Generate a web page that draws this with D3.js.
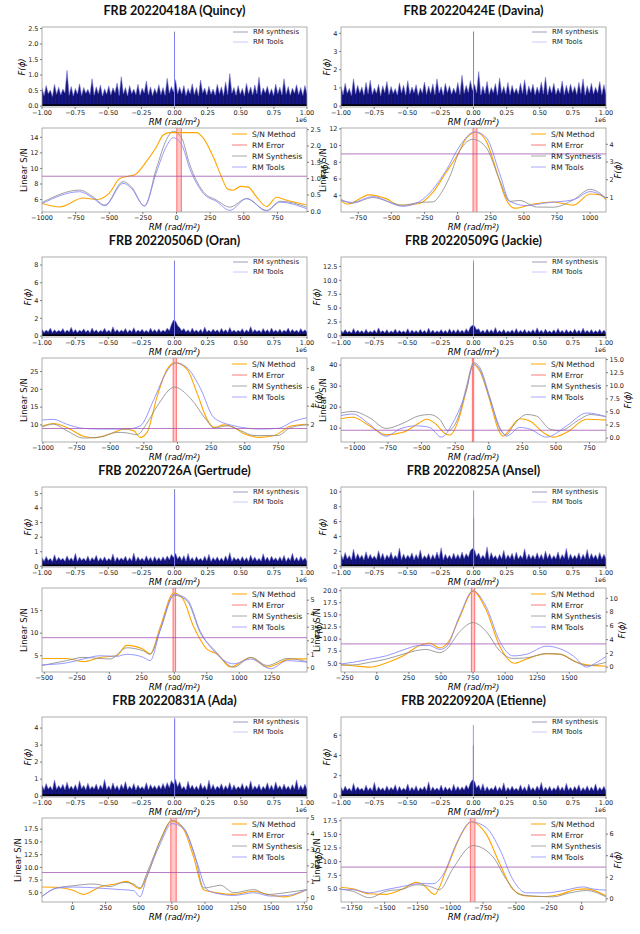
<!DOCTYPE html>
<html>
<head>
<meta charset="utf-8">
<script src="https://cdn.jsdelivr.net/npm/d3@7"></script>
<style>
  body { margin: 0; background: #fff; }
</style>
</head>
<body>
<svg id="fig" width="640" height="934"></svg>
<script>
// ---- data ----
const frbTitles = ["FRB 20220418A (Quincy)", "FRB 20220424E (Davina)", "FRB 20220506D (Oran)", "FRB 20220509G (Jackie)",
    "FRB 20220726A (Gertrude)", "FRB 20220825A (Ansel)", "FRB 20220831A (Ada)", "FRB 20220920A (Etienne)"];

// upper panels: Faraday spectrum over +-1e6 rad/m^2
const rmTicksTop = [-1e6, -0.75e6, -0.5e6, -0.25e6, 0, 0.25e6, 0.5e6, 0.75e6, 1e6];
const topRange = [[-0.03, 2.55], [-0.05, 4.35], [-0.1, 8.9], [-0.2, 14.2], [-0.05, 5.45], [-0.1, 10.65], [-0.05, 4.65], [-0.1, 7.8]];
const topTicks = [[0, 0.5, 1, 1.5, 2, 2.5], [0, 1, 2, 3, 4], [0, 2, 4, 6, 8], [0, 2.5, 5, 7.5, 10, 12.5],
    [0, 1, 2, 3, 4, 5], [0, 2, 4, 6, 8, 10], [0, 1, 2, 3, 4], [0, 2, 4, 6]];
const topFmt = [".1f", "d", "d", ".1f", "d", "d", "d", "d"];
const peakSynth = [2.4, 4.1, 8.5, 13.2, 5.3, 6.5, 4.5, 5.0];
const peakTools = [2.3, 3.9, 8.2, 13.6, 5.0, 10.2, 4.6, 7.0];

// ragged top of the noise floor, sampled evenly across the panel
const noiseQuincy = [
    0.58,0.34,0.66,0.4,0.52,0.31,0.7,0.38, 0.61,0.36,0.55,0.42,1.15,0.35,0.63,0.33,
    0.57,0.39,0.72,0.34,0.6,0.41,0.54,0.37, 0.88,0.35,0.62,0.4,0.68,0.32,0.56,0.38,
    0.65,0.36,0.59,0.43,0.74,0.34,0.95,0.39, 0.6,0.33,0.66,0.4,0.55,0.37,0.7,0.35,
    0.58,0.42,0.81,0.36,0.62,0.34,0.57,0.4, 0.69,0.37,0.6,0.35,0.9,0.41,0.63,0.45,
    0.85,0.4,0.61,0.39,0.66,0.34,0.57,0.4, 0.72,0.37,0.6,0.33,0.84,0.42,0.58,0.36,
    0.64,0.38,0.55,0.35,0.7,0.4,0.62,0.34, 0.78,0.37,1.05,0.41,0.6,0.35,0.66,0.38,
    0.57,0.33,0.73,0.4,0.62,0.36,0.68,0.39, 0.93,0.35,0.59,0.42,0.64,0.37,0.56,0.34,
    0.71,0.4,0.61,0.36,0.88,0.38,0.63,0.35, 0.58,0.41,0.69,0.37,0.6,0.34,0.66,0.4];
const noiseDavina = [
    1.1,0.62,1.25,0.7,0.98,0.58,1.5,0.66, 1.15,0.72,1.05,0.6,1.3,0.68,1.42,0.64,
    1.0,0.7,1.2,0.57,1.12,0.74,1.35,0.63, 1.08,0.69,0.97,0.61,1.28,0.72,1.15,0.6,
    1.4,0.66,1.05,0.73,1.18,0.59,1.0,0.7, 1.32,0.64,1.1,0.68,1.22,0.62,1.5,0.71,
    1.06,0.6,1.25,0.74,1.12,0.65,0.99,0.7, 1.3,0.63,1.7,0.69,1.15,0.75,1.4,0.86,
    1.2,0.72,1.9,0.61,1.1,0.68,1.35,0.64, 1.02,0.73,1.24,0.6,1.55,0.7,1.08,0.66,
    1.3,0.62,1.14,0.71,0.98,0.65,1.26,0.69, 1.45,0.6,1.1,0.74,1.2,0.63,1.05,0.7,
    1.32,0.67,1.6,0.61,1.12,0.72,1.25,0.65, 1.0,0.7,1.38,0.62,1.15,0.68,1.22,0.73,
    1.08,0.64,1.3,0.69,1.5,0.6,1.12,0.71, 1.26,0.66,1.04,0.72,1.35,0.63,1.18,0.68];
const noiseOran = [
    0.8,0.42,0.68,0.48,0.9,0.4,0.72,0.45, 0.66,0.5,0.85,0.41,0.7,0.47,1.0,0.43,
    0.75,0.4,0.68,0.49,0.82,0.44,0.7,0.38, 0.92,0.46,0.72,0.42,0.66,0.5,0.88,0.44,
    0.7,0.41,1.05,0.47,0.74,0.43,0.68,0.49, 0.86,0.4,0.72,0.45,0.95,0.42,0.7,0.48,
    0.78,0.44,0.67,0.4,0.9,0.46,0.73,0.43, 0.82,0.44,0.7,0.48,0.9,0.6,1.3,1.8,
    1.7,1.2,0.95,0.6,0.85,0.47,0.72,0.42, 0.9,0.48,0.7,0.44,0.78,0.4,1.02,0.46,
    0.68,0.43,0.8,0.49,0.72,0.41,0.88,0.45, 0.74,0.42,0.96,0.47,0.7,0.44,0.66,0.5,
    0.84,0.41,0.72,0.46,1.08,0.43,0.75,0.48, 0.69,0.4,0.86,0.45,0.73,0.42,0.92,0.47,
    0.7,0.44,0.8,0.41,0.68,0.49,0.9,0.43, 0.76,0.46,0.7,0.42,0.85,0.48,0.72,0.45];
const noiseJackie = [
    1.0,0.55,1.15,0.6,0.9,0.52,1.35,0.58, 1.05,0.62,0.95,0.5,1.2,0.57,0.88,0.6,
    1.1,0.54,1.45,0.61,0.98,0.56,1.12,0.52, 0.92,0.6,1.25,0.55,1.02,0.63,0.9,0.57,
    1.3,0.53,1.08,0.6,0.95,0.56,1.18,0.62, 1.0,0.51,1.4,0.58,1.06,0.55,0.93,0.6,
    1.15,0.57,1.0,0.53,1.28,0.61,1.1,0.56, 1.2,0.6,1.05,0.58,1.3,0.7,1.6,1.9,
    1.8,1.1,1.3,0.6,1.05,0.55,1.22,0.62, 1.12,0.59,1.5,0.56,1.0,0.61,1.18,0.53,
    0.94,0.6,1.1,0.55,1.32,0.58,1.03,0.62, 1.2,0.54,0.97,0.59,1.14,0.56,1.45,0.6,
    1.05,0.52,1.24,0.61,0.92,0.57,1.1,0.55, 1.35,0.6,1.0,0.53,1.16,0.62,0.98,0.56,
    1.26,0.58,1.08,0.54,1.4,0.6,1.02,0.57, 1.14,0.55,0.95,0.61,1.2,0.56,1.06,0.59];
const noiseGertrude = [
    0.6,0.35,0.68,0.4,0.55,0.32,0.8,0.38, 0.62,0.41,0.56,0.34,0.72,0.39,0.58,0.36,
    0.9,0.33,0.64,0.4,0.57,0.37,0.7,0.35, 0.61,0.42,0.76,0.34,0.59,0.38,0.66,0.36,
    0.55,0.4,0.85,0.33,0.63,0.39,0.58,0.41, 0.7,0.35,0.6,0.37,0.92,0.34,0.65,0.4,
    0.57,0.36,0.73,0.39,0.62,0.33,0.68,0.38, 0.6,0.37,0.66,0.4,0.72,0.45,0.82,0.6,
    0.9,0.5,0.7,0.4,0.74,0.35,0.88,0.39, 0.61,0.34,0.67,0.41,0.56,0.36,0.7,0.38,
    0.82,0.33,0.6,0.4,0.65,0.37,0.58,0.35, 0.72,0.39,0.94,0.34,0.62,0.41,0.57,0.36,
    0.68,0.38,0.6,0.33,0.78,0.4,0.64,0.37, 0.56,0.35,0.86,0.39,0.63,0.34,0.7,0.41,
    0.59,0.36,0.66,0.38,0.75,0.33,0.61,0.4, 0.9,0.37,0.62,0.35,0.69,0.39,0.58,0.36];
const noiseAnsel = [
    1.6,0.9,1.85,1.0,1.45,0.85,2.3,0.95, 1.7,1.05,1.5,0.88,1.95,0.98,1.62,1.02,
    1.4,0.92,2.1,1.0,1.75,0.86,1.55,1.08, 1.88,0.94,1.48,1.03,2.45,0.9,1.66,0.97,
    1.52,1.06,1.8,0.89,1.6,1.0,2.2,0.93, 1.45,1.04,1.72,0.9,1.58,0.98,1.92,1.05,
    2.5,0.88,1.64,1.0,1.5,0.95,1.78,1.02, 1.6,1.0,1.9,1.05,1.7,1.2,2.1,2.4,
    2.2,1.3,1.8,1.0,1.5,1.04,2.6,0.9, 1.84,1.06,1.46,0.91,1.62,1.0,2.15,0.94,
    1.55,1.03,1.76,0.89,1.9,0.97,1.48,1.05, 2.35,0.92,1.65,1.0,1.52,0.96,1.82,1.02,
    1.6,0.9,2.05,1.04,1.7,0.95,1.45,1.0, 1.94,0.93,1.58,1.06,2.4,0.9,1.66,0.98,
    1.5,1.02,1.8,0.92,1.62,1.0,2.25,0.95, 1.72,1.04,1.55,0.9,1.86,0.98,1.6,1.03];
const noiseAda = [
    0.66,0.38,0.74,0.42,0.58,0.36,0.95,0.4, 0.62,0.44,0.7,0.37,0.82,0.41,0.6,0.39,
    0.68,0.35,0.9,0.43,0.64,0.38,0.76,0.4, 0.58,0.42,0.72,0.36,0.66,0.44,0.98,0.39,
    0.61,0.37,0.78,0.41,0.63,0.35,0.7,0.43, 0.86,0.38,0.6,0.4,0.74,0.36,0.65,0.42,
    0.57,0.39,0.8,0.37,0.68,0.44,0.62,0.4, 0.66,0.42,0.75,0.44,0.8,0.5,0.92,0.7,
    1.0,0.55,0.85,0.42,0.58,0.36,0.88,0.43, 0.66,0.39,0.6,0.37,0.77,0.42,0.63,0.35,
    0.94,0.4,0.69,0.38,0.59,0.44,0.73,0.37, 0.62,0.41,0.8,0.36,0.67,0.39,0.57,0.43,
    0.75,0.38,0.64,0.4,0.9,0.37,0.61,0.42, 0.7,0.35,0.58,0.41,0.79,0.39,0.66,0.36,
    0.84,0.43,0.62,0.38,0.72,0.4,0.6,0.37, 0.68,0.41,0.96,0.36,0.64,0.39,0.7,0.42];
const noiseEtienne = [
    0.88,0.5,0.98,0.56,0.8,0.47,1.25,0.53, 0.9,0.58,0.78,0.49,1.05,0.55,0.84,0.52,
    1.35,0.48,0.92,0.57,0.82,0.5,1.0,0.54, 0.86,0.59,1.12,0.47,0.95,0.53,0.8,0.56,
    1.2,0.5,0.88,0.55,1.02,0.48,0.83,0.58, 0.97,0.52,1.4,0.49,0.9,0.56,0.81,0.53,
    1.08,0.5,0.92,0.57,0.85,0.48,1.15,0.55, 0.95,0.56,0.9,0.6,1.1,0.7,1.3,1.6,
    1.45,0.8,1.1,0.56,1.22,0.49,0.93,0.54, 0.82,0.58,1.04,0.5,0.9,0.55,1.3,0.47,
    0.86,0.53,0.98,0.57,0.8,0.51,1.1,0.55, 0.92,0.48,1.18,0.56,0.84,0.52,1.0,0.58,
    1.35,0.5,0.88,0.54,0.96,0.49,0.83,0.57, 1.06,0.53,0.9,0.5,1.25,0.56,0.87,0.52,
    0.95,0.58,1.12,0.48,0.85,0.55,1.02,0.51, 0.9,0.54,1.2,0.5,0.86,0.57,0.97,0.53];
const noiseSets = [noiseQuincy, noiseDavina, noiseOran, noiseJackie, noiseGertrude, noiseAnsel, noiseAda, noiseEtienne];

// lower panels: zoom on the peak
const rmRange = [[-1000, 970], [-880, 1120], [-1007, 963], [-1100, 873], [-518, 1521], [-279, 1786], [-230, 1770], [-1832, 186]];
const snRange = [[4.4, 15.2], [2.05, 12.1], [5.2, 28.8], [3.4, 43.4], [1.4, 20], [3.2, 20.55], [3.2, 19.7], [2.6, 18.0]];
const fRange = [[-0.02, 2.55], [0.18, 4.92], [0.17, 9.14], [-0.74, 15.3], [-0.31, 5.9], [-0.7, 11.5], [-0.27, 5.0], [-0.3, 7.5]];
const rmTicks = [
    [-1000, -750, -500, -250, 0, 250, 500, 750],
    [-750, -500, -250, 0, 250, 500, 750, 1000],
    [-1000, -750, -500, -250, 0, 250, 500, 750],
    [-1000, -750, -500, -250, 0, 250, 500, 750],
    [-500, -250, 0, 250, 500, 750, 1000, 1250],
    [-250, 0, 250, 500, 750, 1000, 1250, 1500],
    [0, 250, 500, 750, 1000, 1250, 1500, 1750],
    [-1750, -1500, -1250, -1000, -750, -500, -250, 0]];
const snTicks = [[6, 8, 10, 12, 14], [4, 6, 8, 10, 12], [10, 15, 20, 25], [10, 20, 30, 40], [5, 10, 15],
    [5, 7.5, 10, 12.5, 15, 17.5, 20], [5, 7.5, 10, 12.5, 15, 17.5], [5, 7.5, 10, 12.5, 15, 17.5]];
const snFmt = ["d", "d", "d", "d", "d", ".1f", ".1f", ".1f"];
const fTicks = [[0, 0.5, 1, 1.5, 2, 2.5], [1, 2, 3, 4], [2, 4, 6, 8], [0, 2.5, 5, 7.5, 10, 12.5, 15],
    [0, 1, 2, 3, 4, 5], [0, 2, 4, 6, 8, 10], [0, 1, 2, 3, 4, 5], [0, 2, 4, 6]];
const fFmt = [".1f", "d", "d", ".1f", "d", "d", "d", "d"];
const rmError = [[2, 36], [116, 146], [-32, -8], [-122, -112], [490, 510], [737, 763], [742, 783], [-847, -812]];
const snThreshold = 9;

// S/N method (left axis), RM synthesis and RM Tools (right axis) as [RM, value]
const snQuincy = [[-1000,5.5],[-868,5.05],[-695,6.2],[-596,6.0],[-496,6.9],[-422,8.7],[-360,9.0],[-310,9.2],[-223,10.9],[-149,12.8],[-99,14.3],[-50,14.6],[149,14.6],[199,13.9],[273,11.5],[335,8.9],[377,7.4],[422,7.2],[476,7.7],[533,7.6],[596,6.3],[670,5.1],[744,6.3],[819,5.9],[968,5.3]];
const synQuincy = [[-1000,0.27],[-720,0.65],[-620,0.44],[-533,0.19],[-397,0.91],[-335,0.75],[-238,0.16],[-149,1.32],[-74,2.2],[-25,2.45],[37,2.25],[99,1.42],[199,0.6],[298,0.34],[397,0.13],[521,0.39],[670,0.03],[769,0.31],[968,0.13]];
const toolsQuincy = [[-1000,0.24],[-720,0.6],[-620,0.4],[-533,0.17],[-397,0.86],[-335,0.7],[-238,0.17],[-149,1.2],[-74,2.0],[-25,2.25],[37,2.05],[99,1.3],[199,0.55],[298,0.3],[397,0.03],[521,0.39],[670,0.01],[769,0.28],[968,0.08]];

const snDavina = [[-881,3.45],[-831,3.0],[-667,4.1],[-540,3.65],[-439,2.86],[-288,3.06],[-187,4.4],[-86,6.8],[3,9.0],[66,10.9],[141,11.6],[217,10.5],[293,7.0],[369,3.45],[432,2.5],[571,3.0],[722,3.25],[874,2.87],[1000,4.2],[1076,4.1],[1121,3.5]];
const synDavina = [[-881,0.9],[-793,0.68],[-641,1.0],[-490,0.68],[-414,0.56],[-288,0.72],[-187,0.75],[-120,1.3],[-60,2.16],[16,3.63],[116,4.28],[217,3.8],[318,1.97],[394,0.78],[470,0.83],[596,0.46],[722,0.45],[874,0.87],[1000,1.46],[1121,0.96]];
const toolsDavina = [[-881,0.83],[-793,0.72],[-641,1.05],[-414,0.5],[-288,0.77],[-86,2.53],[16,3.9],[129,4.7],[217,4.37],[318,2.34],[394,0.78],[520,0.54],[672,0.7],[874,0.87],[1000,1.33],[1121,0.96]];

const snOran = [[-1005,9.7],[-923,10.4],[-823,9.3],[-699,6.8],[-624,6.4],[-500,7.5],[-400,8.8],[-326,8.4],[-276,6.5],[-226,7.9],[-152,17.9],[-77,25.6],[-15,27.5],[72,25.6],[147,18.8],[221,11.5],[271,9.3],[346,10.0],[420,9.3],[495,7.5],[619,6.5],[719,7.0],[843,9.7],[963,10.2]];
const synOran = [[-1005,1.79],[-923,2.07],[-823,1.38],[-699,0.59],[-574,0.69],[-450,1.2],[-380,1.15],[-300,0.95],[-226,2.2],[-152,3.97],[-22,6.03],[97,4.83],[221,2.41],[271,1.66],[371,1.9],[470,1.38],[570,0.86],[744,0.86],[843,1.72],[963,2.0]];
const toolsOran = [[-1005,2.52],[-923,2.59],[-823,2.07],[-699,1.62],[-574,1.55],[-376,1.55],[-276,1.9],[-177,4.66],[-77,7.76],[-15,8.62],[72,8.1],[172,5.86],[271,2.76],[420,1.9],[619,1.55],[744,1.62],[868,2.41],[963,2.76]];

const snJackie = [[-1099,14.5],[-1012,15.2],[-888,11.1],[-764,6.8],[-639,8.0],[-515,12.6],[-465,14.2],[-391,11.8],[-330,7.6],[-290,6.7],[-216,15.7],[-167,28],[-117,40.3],[-67,37.2],[7,23.4],[70,9.5],[107,6.2],[157,9.5],[231,14.5],[306,13.4],[405,8.0],[480,5.7],[580,8.0],[729,14.2],[873,13.8]];
const synJackie = [[-1099,4.8],[-1012,5.1],[-888,3.9],[-764,1.85],[-639,2.84],[-515,4.3],[-440,4.5],[-366,3.6],[-303,1.42],[-216,4.8],[-167,9.75],[-112,14.4],[-67,13.5],[7,7.9],[82,1.73],[132,0.62],[182,2.35],[281,4.5],[356,4.2],[455,1.73],[530,1.42],[679,3.6],[754,4.5],[873,4.1]];
const toolsJackie = [[-1099,4.3],[-1012,4.6],[-888,2.65],[-764,0.37],[-664,1.73],[-540,2.35],[-440,2.04],[-353,0.19],[-266,3.0],[-167,9.1],[-112,14.2],[-67,13.1],[7,7.6],[95,1.42],[132,0.37],[231,2.04],[306,1.73],[430,0.19],[580,2.35],[729,4.8],[873,4.1]];

const snGertrude = [[-518,4.4],[-330,4.4],[-201,3.7],[-72,4.6],[57,5.0],[134,7.3],[263,6.4],[314,5.4],[392,11.4],[495,18.9],[559,17.9],[649,11.4],[753,6.4],[830,5.4],[933,2.5],[1088,4.6],[1216,2.5],[1397,4.3],[1521,4.3]];
const synGertrude = [[-518,0.17],[-330,0.53],[-201,0.77],[-72,0.69],[5,0.65],[134,1.48],[263,1.24],[314,1.0],[392,2.8],[500,5.36],[598,4.95],[701,2.56],[804,1.36],[959,0.05],[1088,0.77],[1216,0.17],[1371,0.69],[1521,0.45]];
const toolsGertrude = [[-518,0.22],[-330,0.36],[-201,0.65],[-72,0.89],[57,0.85],[134,1.0],[263,0.77],[314,0.53],[392,2.8],[500,5.43],[598,5.07],[701,2.68],[804,1.24],[959,0.29],[1088,0.65],[1242,-0.07],[1371,0.53],[1521,0.41]];

const snAnsel = [[-279,4.67],[-188,4.5],[-57,4.2],[73,5.07],[203,6.5],[333,8.67],[411,9.2],[490,8.15],[560,9.5],[646,14.5],[750,19.9],[854,15.9],[958,8.5],[1076,5.0],[1167,5.9],[1323,7.0],[1427,6.9],[1557,5.2],[1635,4.67],[1786,4.4]];
const synAnsel = [[-279,0.33],[-188,0.33],[-57,0.7],[73,1.17],[203,1.88],[333,2.49],[385,2.58],[490,2.11],[542,2.58],[646,5.16],[750,6.48],[854,5.16],[958,2.35],[1063,1.27],[1167,1.36],[1323,1.97],[1427,1.88],[1531,0.94],[1635,0.23],[1786,0.7]];
const toolsAnsel = [[-279,0.47],[-188,0.7],[-57,1.17],[73,1.64],[203,2.49],[333,3.15],[411,3.15],[490,2.58],[542,2.96],[646,7.5],[750,11.1],[854,8.7],[958,3.76],[1063,1.64],[1167,1.88],[1323,3.05],[1427,2.68],[1531,1.64],[1635,0.0],[1714,0.7],[1786,1.55]];

const snAda = [[-230,6.15],[-121,6.1],[5,5.5],[81,4.7],[207,6.15],[333,6.8],[409,7.25],[510,5.8],[561,8.2],[662,15.3],[750,19.1],[838,17.5],[914,12.05],[990,5.6],[1091,5.0],[1217,4.7],[1369,5.3],[1470,4.7],[1596,4.2],[1768,5.6]];
const synAda = [[-230,0.1],[-121,0.6],[5,0.75],[157,0.86],[283,0.7],[384,0.96],[460,0.86],[510,0.61],[561,1.53],[662,3.57],[750,4.84],[838,4.39],[927,2.55],[990,0.61],[1066,0.71],[1116,0.78],[1217,0.31],[1369,0.51],[1470,0.2],[1596,0.3],[1768,0.51]];
const toolsAda = [[-230,0.06],[-121,0.6],[5,0.67],[207,0.6],[359,0.51],[460,0.45],[510,0.06],[561,1.29],[662,3.37],[750,4.65],[838,4.35],[939,2.24],[1015,0.51],[1091,0.27],[1217,0.14],[1369,0.31],[1495,0.1],[1621,0.14],[1768,0.51]];

const snEtienne = [[-1832,5.3],[-1743,5.0],[-1616,4.1],[-1489,4.0],[-1361,5.0],[-1260,6.2],[-1209,5.8],[-1120,4.0],[-1031,8.45],[-929,14.4],[-840,17.3],[-725,15.0],[-623,9.6],[-522,4.9],[-420,3.7],[-267,3.6],[-165,4.0],[-38,4.9],[38,5.0],[186,3.7]];
const synEtienne = [[-1832,0.9],[-1743,0.7],[-1616,0.1],[-1489,0.7],[-1361,0.9],[-1260,1.3],[-1158,1.15],[-1081,0.85],[-980,2.8],[-827,4.94],[-674,3.88],[-573,1.8],[-471,0.4],[-344,0.24],[-216,0.18],[-89,0.55],[38,0.76],[186,0.18]];
const toolsEtienne = [[-1832,0.85],[-1743,0.85],[-1616,0.55],[-1489,0.85],[-1361,1.15],[-1234,1.4],[-1132,1.4],[-1056,2.2],[-954,5.1],[-840,7.15],[-725,6.6],[-623,4.6],[-522,1.76],[-420,0.55],[-267,0.55],[-140,0.76],[13,1.1],[89,0.9],[186,0.8]];

const snCurves = [snQuincy, snDavina, snOran, snJackie, snGertrude, snAnsel, snAda, snEtienne];
const synCurves = [synQuincy, synDavina, synOran, synJackie, synGertrude, synAnsel, synAda, synEtienne];
const toolsCurves = [toolsQuincy, toolsDavina, toolsOran, toolsJackie, toolsGertrude, toolsAnsel, toolsAda, toolsEtienne];

// ---- layout ----
const panelW = 265, topH = 80, botH = 84, rowStep = 230;
const colLeft = [42, 341];
const tickFont = "DejaVu Sans";

const colors = {
    orange: "#ffa500",
    err: "#ff3b3b",
    synth: "#8c8c8c",
    tools: "#8585ff",
    threshold: "#a24fb0",
    frame: "#9a9a9a"
};

const fig = d3.select("#fig");
const defs = fig.append("defs");

// striped fill that mimics the dense overplotted noise traces
var pat = defs.append("pattern").attr("id", "noiseFill")
    .attr("patternUnits", "userSpaceOnUse").attr("width", 7).attr("height", 6);
pat.append("rect").attr("width", 7).attr("height", 6).attr("fill", "#17178e");
pat.append("rect").attr("x", 0.6).attr("width", 0.7).attr("height", 6).attr("fill", "#06062e");
pat.append("rect").attr("x", 2.9).attr("width", 0.4).attr("height", 6).attr("fill", "#0c0c5a");
pat.append("rect").attr("x", 4.7).attr("width", 0.6).attr("height", 6).attr("fill", "#080840");

function addClip(id, x, y, w, h) {
    defs.append("clipPath").attr("id", id)
        .append("rect").attr("x", x).attr("y", y).attr("width", w).attr("height", h);
}

// y axis ticks on either side, returns the widest label
function yTicks(g, scale, ticks, fmt, xPos, side) {
    var f = d3.format(fmt);
    var maxW = 0;
    ticks.forEach(function (t) {
        var yy = scale(t);
        g.append("line")
            .attr("x1", xPos).attr("x2", xPos + 2 * side)
            .attr("y1", yy).attr("y2", yy)
            .attr("stroke", "#333").attr("stroke-width", 0.6);
        var txt = g.append("text")
            .attr("x", xPos + 3.5 * side).attr("y", yy)
            .attr("dy", "0.35em")
            .attr("text-anchor", side < 0 ? "end" : "start")
            .attr("font-family", tickFont).attr("font-size", "6.5px").attr("fill", "#222")
            .text(f(t));
        maxW = Math.max(maxW, txt.node().getComputedTextLength());
    });
    return maxW;
}

function xTicks(g, scale, ticks, labelFn, yPos) {
    ticks.forEach(function (t) {
        var xx = scale(t);
        g.append("line")
            .attr("x1", xx).attr("x2", xx)
            .attr("y1", yPos).attr("y2", yPos + 2)
            .attr("stroke", "#333").attr("stroke-width", 0.6);
        g.append("text")
            .attr("x", xx).attr("y", yPos + 8)
            .attr("text-anchor", "middle")
            .attr("font-family", tickFont).attr("font-size", "6.5px").attr("fill", "#222")
            .text(labelFn(t));
    });
}

function phiLabel(g, x, y) {
    g.append("text")
        .attr("transform", `translate(${x},${y}) rotate(-90)`)
        .attr("text-anchor", "middle")
        .attr("font-family", tickFont).attr("font-size", "8.5px").attr("font-style", "italic")
        .text("F(ϕ)");
}

function rmLabel(g, x, y) {
    var t = g.append("text")
        .attr("x", x).attr("y", y)
        .attr("text-anchor", "middle")
        .attr("font-family", tickFont).attr("font-size", "8.5px").attr("font-style", "italic");
    t.append("tspan").text("RM (rad/m");
    t.append("tspan").attr("dy", "-0.4em").attr("font-size", "6px").text("2");
    t.append("tspan").attr("dy", "0.4em").text(")");
}

function legend(g, items, x, y, step, size) {
    items.forEach(function (it, k) {
        var yy = y + k * step;
        g.append("line")
            .attr("x1", x).attr("x2", x + 15)
            .attr("y1", yy).attr("y2", yy)
            .attr("stroke", it[1]).attr("stroke-width", 1);
        g.append("text")
            .attr("x", x + 20).attr("y", yy).attr("dy", "0.35em")
            .attr("font-family", tickFont).attr("font-size", size).attr("fill", "#222")
            .text(it[0]);
    });
}

function drawTop(g, i, x0, y0) {
    var x = d3.scaleLinear().domain([-1e6, 1e6]).range([x0, x0 + panelW]);
    var y = d3.scaleLinear().domain(topRange[i]).range([y0 + topH, y0]);

    addClip("clipT" + i, x0, y0, panelW, topH);
    var pg = g.append("g").attr("clip-path", `url(#clipT${i})`);

    var vals = noiseSets[i];
    var pts = vals.map((v, k) => [-1e6 + 2e6 * k / (vals.length - 1), v]);

    pg.append("path").datum(pts)
        .attr("d", d3.area().x(d => x(d[0])).y0(y(0)).y1(d => y(d[1])))
        .attr("fill", "url(#noiseFill)");
    pg.append("path").datum(pts)
        .attr("d", d3.line().x(d => x(d[0])).y(d => y(d[1])))
        .attr("fill", "none").attr("stroke", "#7676d4").attr("stroke-width", 0.55);
    // dark floor of the synthesis trace
    pg.append("line")
        .attr("x1", x(-1e6)).attr("x2", x(1e6))
        .attr("y1", y(0) - 1).attr("y2", y(0) - 1)
        .attr("stroke", "#000").attr("stroke-width", 1.6);

    var rmPeak = d3.mean(rmError[i]);
    [[peakSynth[i], "#6a6a90"], [peakTools[i], "#8282ff"]].forEach(function (p) {
        pg.append("line")
            .attr("x1", x(rmPeak)).attr("x2", x(rmPeak))
            .attr("y1", y(0)).attr("y2", y(p[0]))
            .attr("stroke", p[1]).attr("stroke-width", 1).attr("opacity", 0.85);
    });

    g.append("rect")
        .attr("x", x0).attr("y", y0).attr("width", panelW).attr("height", topH)
        .attr("fill", "none").attr("stroke", colors.frame).attr("stroke-width", 0.8);

    xTicks(g, x, rmTicksTop, t => d3.format(".2f")(t / 1e6), y0 + topH);
    var w = yTicks(g, y, topTicks[i], topFmt[i], x0, -1);

    g.append("text")
        .attr("x", x0 + panelW).attr("y", y0 + topH + 14.8)
        .attr("text-anchor", "end")
        .attr("font-family", tickFont).attr("font-size", "6.2px").attr("fill", "#222")
        .text("1e6");

    phiLabel(g, x0 - 3.5 - w - 3.5, y0 + topH / 2);
    rmLabel(g, x0 + panelW / 2, y0 + topH + 17.5);

    legend(g, [["RM synthesis", "#9c9cbc"], ["RM Tools", "#cacaff"]], x0 + 191, y0 + 5, 10, "7px");
}

function drawBottom(g, i, x0, y0) {
    var x = d3.scaleLinear().domain(rmRange[i]).range([x0, x0 + panelW]);
    var yL = d3.scaleLinear().domain(snRange[i]).range([y0 + botH, y0]);
    var yR = d3.scaleLinear().domain(fRange[i]).range([y0 + botH, y0]);

    addClip("clipB" + i, x0, y0, panelW, botH);
    var pg = g.append("g").attr("clip-path", `url(#clipB${i})`);

    // RM error span
    var e = rmError[i];
    pg.append("rect")
        .attr("x", x(e[0])).attr("width", x(e[1]) - x(e[0]))
        .attr("y", y0).attr("height", botH)
        .attr("fill", "#ff0000").attr("fill-opacity", 0.22);
    e.forEach(function (v) {
        pg.append("line")
            .attr("x1", x(v)).attr("x2", x(v))
            .attr("y1", y0).attr("y2", y0 + botH)
            .attr("stroke", colors.err).attr("stroke-width", 0.9).attr("opacity", 0.75);
    });

    var lineL = d3.line().x(d => x(d[0])).y(d => yL(d[1])).curve(d3.curveMonotoneX);
    var lineR = d3.line().x(d => x(d[0])).y(d => yR(d[1])).curve(d3.curveMonotoneX);

    pg.append("path").datum(snCurves[i]).attr("d", lineL)
        .attr("fill", "none").attr("stroke", colors.orange).attr("stroke-width", 1.1);
    pg.append("path").datum(synCurves[i]).attr("d", lineR)
        .attr("fill", "none").attr("stroke", colors.synth).attr("stroke-width", 0.85);
    pg.append("path").datum(toolsCurves[i]).attr("d", lineR)
        .attr("fill", "none").attr("stroke", colors.tools).attr("stroke-width", 0.85);

    pg.append("line")
        .attr("x1", x0).attr("x2", x0 + panelW)
        .attr("y1", yL(snThreshold)).attr("y2", yL(snThreshold))
        .attr("stroke", colors.threshold).attr("stroke-width", 0.9).attr("opacity", 0.85);

    g.append("rect")
        .attr("x", x0).attr("y", y0).attr("width", panelW).attr("height", botH)
        .attr("fill", "none").attr("stroke", colors.frame).attr("stroke-width", 0.8);

    xTicks(g, x, rmTicks[i], t => d3.format("d")(t), y0 + botH);
    var wL = yTicks(g, yL, snTicks[i], snFmt[i], x0, -1);
    var wR = yTicks(g, yR, fTicks[i], fFmt[i], x0 + panelW, 1);

    g.append("text")
        .attr("transform", `translate(${x0 - 3.5 - wL - 3},${y0 + botH / 2}) rotate(-90)`)
        .attr("text-anchor", "middle")
        .attr("font-family", tickFont).attr("font-size", "8.5px").attr("fill", "#111")
        .text("Linear S/N");
    phiLabel(g, x0 + panelW + 3.5 + wR + 7, y0 + botH / 2);
    rmLabel(g, x0 + panelW / 2, y0 + botH + 18);

    legend(g, [["S/N Method", colors.orange], ["RM Error", "#ff7a7a"],
        ["RM Synthesis", "#a8a8a8"], ["RM Tools", "#a8a8ff"]], x0 + 190, y0 + 6, 11, "7.5px");
}

frbTitles.forEach(function (title, i) {
    var col = i % 2, row = Math.floor(i / 2);
    var x0 = colLeft[col], oy = row * rowStep;
    var g = fig.append("g");
    g.append("text")
        .attr("x", x0 + panelW / 2).attr("y", oy + 15)
        .attr("text-anchor", "middle")
        .attr("font-family", "Lato").attr("font-weight", 700).attr("font-size", "12.5px").attr("fill", "#111")
        .text(title);
    drawTop(g, i, x0, oy + 27);
    drawBottom(g, i, x0, oy + 128);
});
</script>
</body>
</html>
